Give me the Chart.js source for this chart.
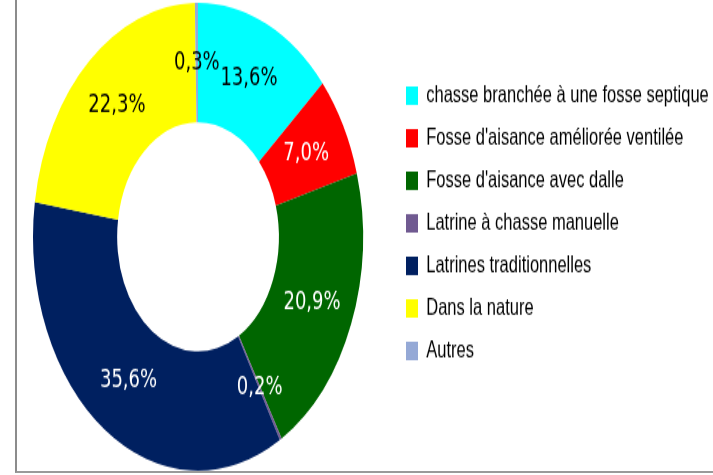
<!DOCTYPE html>
<html>
<head>
<meta charset="utf-8">
<script src="https://cdn.jsdelivr.net/npm/chart.js@4/dist/chart.umd.min.js"></script>
<style>
  html, body { margin: 0; padding: 0; background: #fff; overflow: hidden; }
  #stage { position: relative; width: 713px; height: 475px; overflow: hidden; }
  #frame { position: absolute; left: 15px; top: -2px; width: 720px; height: 473px; border-left: 2px solid #8c8c8c; border-bottom: 2px solid #9a9a9a; }
  #stretch { position: absolute; left: 0; top: 0; width: 713px; height: 335px; transform-origin: 0 0; transform: scaleY(1.418); }
</style>
</head>
<body>
<div id="stage">
  <div id="frame"></div>
  <div id="stretch"><canvas id="donut" width="713" height="335"></canvas></div>
</div>
<script>
const categories = [
  "chasse branchée à une fosse septique",
  "Fosse d'aisance améliorée ventilée",
  "Fosse d'aisance avec dalle",
  "Latrine à chasse manuelle",
  "Latrines traditionnelles",
  "Dans la nature",
  "Autres"
];
const shares = [13.6, 7.0, 20.9, 0.2, 35.6, 22.3, 0.3];
const sliceColors = ["#00FFFF", "#FF0000", "#006600", "#705A91", "#002060", "#FFFF00", "#95A9D6"];
const labelColors = ["#000", "#fff", "#fff", "#fff", "#fff", "#000", "#000"];

// legend geometry: item column starts at x=406, doughnut centered at x=198
const legendFont = 16.5;
const legendPad = 13.5;
const legendWidth = 320.5;
const m = document.createElement("canvas").getContext("2d");
m.font = legendFont + 'px "Liberation Sans"';
const widest = Math.max(...categories.map(c => m.measureText(c).width));
const natural = legendPad + 12 + legendFont / 2 + widest + 10;
const padRight = Math.max(0, legendWidth - natural);

const sliceLabels = {
  id: "sliceLabels",
  afterDatasetsDraw(chart) {
    const ctx = chart.ctx;
    const meta = chart.getDatasetMeta(0);
    ctx.save();
    ctx.font = '18px "DejaVu Sans"';
    ctx.textAlign = "center";
    ctx.textBaseline = "middle";
    meta.data.forEach((arc, i) => {
      const p = arc.tooltipPosition();
      ctx.fillStyle = labelColors[i];
      ctx.fillText(shares[i].toFixed(1).replace(".", ",") + "%", p.x, p.y);
    });
    ctx.restore();
  }
};

new Chart(document.getElementById("donut"), {
  type: "doughnut",
  data: {
    labels: categories,
    datasets: [{
      data: shares,
      backgroundColor: sliceColors,
      borderWidth: 0
    }]
  },
  options: {
    responsive: false,
    animation: false,
    cutout: "49%",
    layout: { padding: { left: 3.5, right: padRight, top: 2, bottom: 3 } },
    plugins: {
      tooltip: { enabled: false },
      legend: {
        position: "right",
        align: "start",
        maxWidth: legendWidth - padRight,
        title: { display: true, text: "", font: { size: 10 }, padding: { top: 31.75, bottom: 0 } },
        labels: {
          boxWidth: 12,
          boxHeight: 13,
          padding: legendPad,
          color: "#000",
          font: { family: "Liberation Sans", size: legendFont }
        }
      }
    }
  },
  plugins: [sliceLabels]
});
</script>
</body>
</html>
